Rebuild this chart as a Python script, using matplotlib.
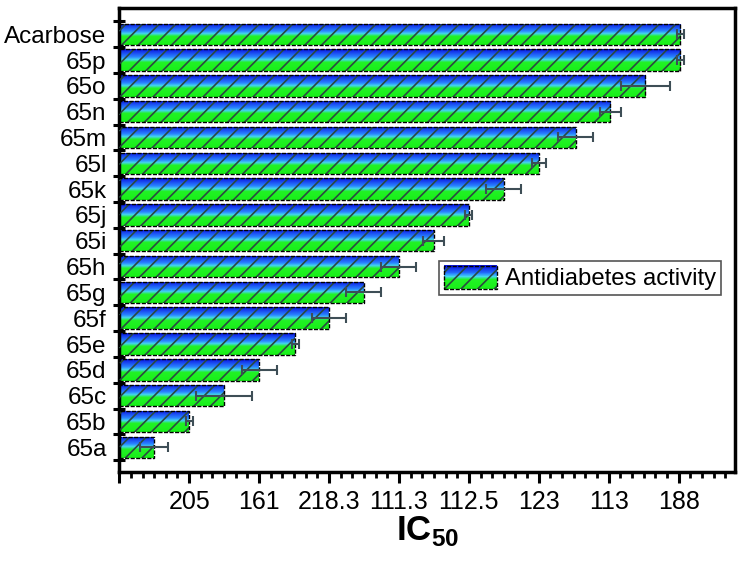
import numpy as np
import matplotlib
matplotlib.use("Agg")
import matplotlib.pyplot as plt
from matplotlib.patches import Rectangle
from matplotlib.colors import LinearSegmentedColormap
from matplotlib.legend_handler import HandlerBase

plt.rcParams["font.family"] = ["Liberation Sans", "DejaVu Sans"]
plt.rcParams["mathtext.fontset"] = "custom"
plt.rcParams["mathtext.rm"] = "Liberation Sans"
plt.rcParams["mathtext.bf"] = "Liberation Sans:bold"
plt.rcParams["hatch.linewidth"] = 1.2

# Данные (снизу вверх)
compounds = ["65a", "65b", "65c", "65d", "65e", "65f", "65g", "65h", "65i",
             "65j", "65k", "65l", "65m", "65n", "65o", "65p", "Acarbose"]
activity = [1.0, 2.0, 3.0, 4.0, 5.03, 6.0, 7.0, 8.0, 9.0,
            10.0, 11.0, 12.0, 13.05, 14.05, 15.05, 16.05, 16.05]
errors = [0.4, 0.1, 0.8, 0.5, 0.1, 0.5, 0.5, 0.5, 0.3,
          0.1, 0.5, 0.2, 0.5, 0.3, 0.7, 0.1, 0.1]
tick_pos = [0, 2, 4, 6, 8, 10, 12, 14, 16]
tick_labels = ["", "205", "161", "218.3", "111.3", "112.5", "123", "113", "188"]

grad = LinearSegmentedColormap.from_list(
    "bg", [(0, "#18f018"), (0.40, "#22f226"), (0.52, "#44d6ee"),
           (0.64, "#2a86ff"), (1.0, "#0a12e4")])
hatch_col = "#2a4a40"
bar_h = 0.83

fig = plt.figure(figsize=(7.45, 5.61), dpi=100)
ax = fig.add_axes([0.160, 0.159, 0.827, 0.826])

y = np.arange(len(compounds))
gimg = np.linspace(0, 1, 256).reshape(-1, 1)

for yi, w in zip(y, activity):
    rect = Rectangle((0, yi - bar_h / 2), w, bar_h, facecolor="none", edgecolor="none")
    ax.add_patch(rect)
    im = ax.imshow(gimg, cmap=grad, origin="lower", aspect="auto",
                   extent=[0, w, yi - bar_h / 2, yi + bar_h / 2], zorder=2)
    im.set_clip_path(rect)
    ax.add_patch(Rectangle((0, yi - bar_h / 2), w, bar_h, facecolor="none",
                           edgecolor=hatch_col, hatch="//", lw=0, zorder=3))
    ax.add_patch(Rectangle((0, yi - bar_h / 2), w, bar_h, facecolor="none",
                           edgecolor="black", lw=1.0, ls=(0, (3, 1)), zorder=4))

ax.errorbar(activity, y, xerr=errors, fmt="none", ecolor="#3e4e56",
            elinewidth=1.5, capsize=3.5, capthick=1.5, zorder=5)

ax.set_xlim(0, 17.62)
ax.set_ylim(-0.95, 17.0)

# Ось X
ax.set_xticks(tick_pos)
ax.set_xticklabels(tick_labels, fontsize=18)
ax.set_xticks(np.arange(0, 17.62, 1 / 3), minor=True)
ax.tick_params(axis="x", which="major", direction="out", length=8, width=2.2, pad=5)
ax.tick_params(axis="x", which="minor", direction="out", length=4.5, width=2.0)

# Ось Y
ax.set_yticks(y)
ax.set_yticklabels(compounds, fontsize=17.5)
ax.set_yticks(np.arange(-0.5, 17, 1), minor=True)
ax.tick_params(axis="y", which="major", length=0, pad=9)
ax.tick_params(axis="y", which="minor", direction="inout", length=8, width=2.2)

for s in ax.spines.values():
    s.set_linewidth(2.5)

ax.set_xlabel(r"$\mathbf{IC}_{\mathbf{50}}$", fontsize=25, labelpad=0)


class GradientHandler(HandlerBase):
    def create_artists(self, legend, orig_handle, xdescent, ydescent,
                       width, height, fontsize, trans):
        arts = []
        n = 24
        x0, y0 = -xdescent, -ydescent
        for k in range(n):
            arts.append(Rectangle((x0, y0 + height * k / n), width, height / n + 0.3,
                                  facecolor=grad((k + 0.5) / n), edgecolor="none",
                                  transform=trans))
        arts.append(Rectangle((x0, y0), width, height, facecolor="none",
                              edgecolor=hatch_col, hatch="//", lw=0, transform=trans))
        arts.append(Rectangle((x0, y0), width, height, facecolor="none",
                              edgecolor="black", lw=1.0, ls=(0, (3, 1)), transform=trans))
        return arts


handle = Rectangle((0, 0), 1, 1)
leg = ax.legend([handle], ["Antidiabetes activity"], handler_map={Rectangle: GradientHandler()},
                loc="center", bbox_to_anchor=(0.748, 0.418), fontsize=17.2,
                handlelength=2.2, handleheight=1.1, handletextpad=0.35,
                borderpad=0.2, fancybox=False, framealpha=1)
leg.get_frame().set_edgecolor("#555555")
leg.get_frame().set_linewidth(1.2)

plt.savefig("out.png", dpi=100)
